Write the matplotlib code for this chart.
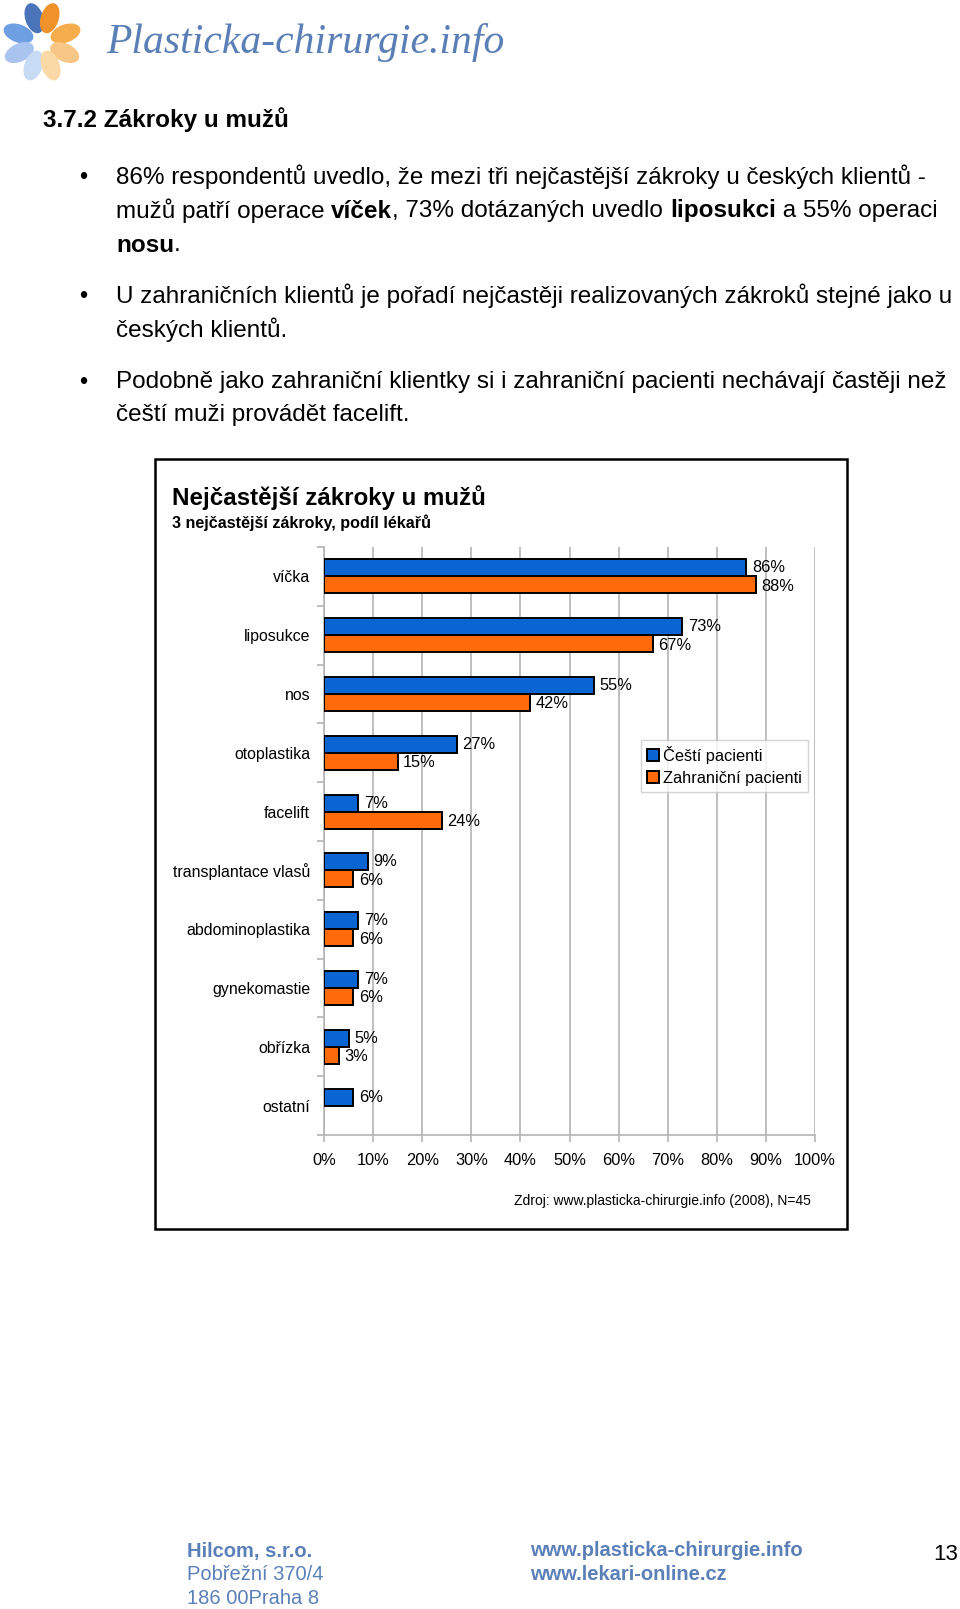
import numpy as np
import matplotlib
matplotlib.use("Agg")
import matplotlib.pyplot as plt
from matplotlib.patches import Ellipse, Rectangle

plt.rcParams['font.family'] = ['Liberation Sans', 'DejaVu Sans']

# ---------------- data ----------------
categories = ["víčka", "liposukce", "nos", "otoplastika", "facelift",
              "transplantace vlasů", "abdominoplastika", "gynekomastie",
              "obřízka", "ostatní"]
czech = [86, 73, 55, 27, 7, 9, 7, 7, 5, 6]
foreign = [88, 67, 42, 15, 24, 6, 6, 6, 3, np.nan]
series_names = ["Čeští pacienti", "Zahraniční pacienti"]
xticks = list(range(0, 101, 10))
xtick_labels = [f"{t}%" for t in xticks]

W, H = 960, 1609
fig = plt.figure(figsize=(W / 100, H / 100), dpi=100)
fig.patch.set_facecolor("white")


def P(x, y):
    return x / W, 1 - y / H


BLUE = "#0a64d2"
ORANGE = "#ff6a0a"
FOOT = "#5b80b8"

# ---------------- logo ----------------
lax = fig.add_axes([0, 1 - 90 / H, 90 / W, 90 / H])
lax.set_xlim(0, 90)
lax.set_ylim(90, 0)
lax.axis("off")
cx, cy = 42, 42
petals = [
    (108, "#4a74ba"), (72, "#f0922a"),
    (160, "#6d9fe2"), (20, "#f6ad4e"),
    (205, "#a9c5ef"), (-25, "#f9c785"),
    (250, "#c8dbf5"), (-70, "#fbd9a6"),
]
for ang, col in petals:
    a = np.deg2rad(ang)
    ex = cx + 25 * np.cos(a)
    ey = cy - 25 * np.sin(a)
    lax.add_patch(Ellipse((ex, ey), 31, 18, angle=-ang, color=col, lw=0))
fig.text(*P(106, 43), "Plasticka-chirurgie.info", fontsize=30,
         family="Liberation Serif", style="italic", color="#5a7fb6",
         va="center", ha="left")

# ---------------- heading and bullets ----------------
fig.text(*P(43, 120), "3.7.2 Zákroky u mužů", fontsize=17.5,
         weight="bold", va="center", ha="left")

renderer = fig.canvas.get_renderer()


def rich_line(x, y, parts, size=17.5):
    cur = x
    for txt, bold in parts:
        t = fig.text(*P(cur, y), txt, fontsize=size,
                     weight="bold" if bold else "normal",
                     va="center", ha="left")
        bb = t.get_window_extent(renderer=renderer)
        cur += bb.width


bullet_lines = [
    (177, [("86% respondentů uvedlo, že mezi tři nejčastější zákroky u českých klientů -", False)], True),
    (211, [("mužů patří operace ", False), ("víček", True), (", 73% dotázaných uvedlo ", False),
           ("liposukci", True), (" a 55% operaci", False)], False),
    (245, [("nosu", True), (".", False)], False),
    (296, [("U zahraničních klientů je pořadí nejčastěji realizovaných zákroků stejné jako u", False)], True),
    (330, [("českých klientů.", False)], False),
    (382, [("Podobně jako zahraniční klientky si i zahraniční pacienti nechávají častěji než", False)], True),
    (415, [("čeští muži provádět facelift.", False)], False),
]
for y, parts, has_bullet in bullet_lines:
    if has_bullet:
        fig.text(*P(79, y + 1), "•", fontsize=17, va="center", ha="left")
    rich_line(116, y, parts)

# ---------------- chart frame ----------------
fig.patches.append(Rectangle(P(155, 1229), (847 - 155) / W, (1229 - 459) / H,
                             transform=fig.transFigure, fill=False,
                             edgecolor="black", lw=1.8))
fig.text(*P(172, 498), "Nejčastější zákroky u mužů", fontsize=17.4,
         weight="bold", va="center", ha="left")
fig.text(*P(172, 523), "3 nejčastější zákroky, podíl lékařů", fontsize=11.6,
         weight="bold", va="center", ha="left")

ax_l, ax_r, ax_t, ax_b = 324, 815, 547, 1135
ax = fig.add_axes([ax_l / W, 1 - ax_b / H, (ax_r - ax_l) / W, (ax_b - ax_t) / H])

n = len(categories)
ypos = np.arange(n)
bh = 0.29
GRID = "#b4b4b4"
ax.barh(ypos - bh / 2, czech, height=bh, color=BLUE, edgecolor="black",
        lw=1.4, label=series_names[0], zorder=3)
ax.barh(ypos + bh / 2, foreign, height=bh, color=ORANGE, edgecolor="black",
        lw=1.4, label=series_names[1], zorder=3)

LBL = 11.8
for i in range(n):
    ax.annotate(f"{czech[i]:g}%", (czech[i], ypos[i] - bh / 2),
                xytext=(4, 0), textcoords="offset points",
                va="center", ha="left", fontsize=LBL)
    if not np.isnan(foreign[i]):
        ax.annotate(f"{foreign[i]:g}%", (foreign[i], ypos[i] + bh / 2),
                    xytext=(4, -1), textcoords="offset points",
                    va="center", ha="left", fontsize=LBL)

ax.set_xlim(0, 100)
ax.set_ylim(n - 0.5, -0.5)
ax.set_xticks(xticks)
ax.set_xticklabels(xtick_labels, fontsize=LBL)
ax.set_yticks(ypos)
ax.set_yticklabels(categories, fontsize=11.4)
ax.set_yticks(np.arange(n + 1) - 0.5, minor=True)
ax.tick_params(axis="y", which="major", length=0, pad=10)
ax.tick_params(axis="y", which="minor", length=5, color=GRID, width=1.2)
ax.tick_params(axis="x", which="major", length=5, color=GRID, width=1.2, pad=8)
ax.xaxis.grid(True, color=GRID, lw=1.2, zorder=0)
ax.set_axisbelow(True)
for s in ["top", "right"]:
    ax.spines[s].set_visible(False)
for s in ["left", "bottom"]:
    ax.spines[s].set_color(GRID)
    ax.spines[s].set_linewidth(1.2)

leg = ax.legend(loc="upper left", bbox_to_anchor=P(641, 740),
                bbox_transform=fig.transFigure, fontsize=LBL,
                frameon=True, fancybox=False, edgecolor="#c8c8c8",
                handlelength=0.75, handleheight=0.75, handletextpad=0.25,
                borderpad=0.35, labelspacing=0.45, borderaxespad=0)
leg.get_frame().set_linewidth(1.0)

fig.text(*P(811, 1201), "Zdroj: www.plasticka-chirurgie.info (2008), N=45",
         fontsize=10, va="center", ha="right")

# ---------------- footer ----------------
FS = 14.5
fig.text(*P(187, 1551), "Hilcom, s.r.o.", fontsize=FS, weight="bold",
         color=FOOT, va="center", ha="left")
fig.text(*P(187, 1574), "Pobřežní 370/4", fontsize=FS, color=FOOT,
         va="center", ha="left")
fig.text(*P(187, 1598), "186 00Praha 8", fontsize=FS, color=FOOT,
         va="center", ha="left")
fig.text(*P(530, 1551), "www.plasticka-chirurgie.info", fontsize=FS,
         weight="bold", color=FOOT, va="center", ha="left")
fig.text(*P(530, 1574), "www.lekari-online.cz", fontsize=FS,
         weight="bold", color=FOOT, va="center", ha="left")
fig.text(*P(958, 1555), "13", fontsize=16, color="black",
         va="center", ha="right")

fig.savefig("out.png", dpi=100)
